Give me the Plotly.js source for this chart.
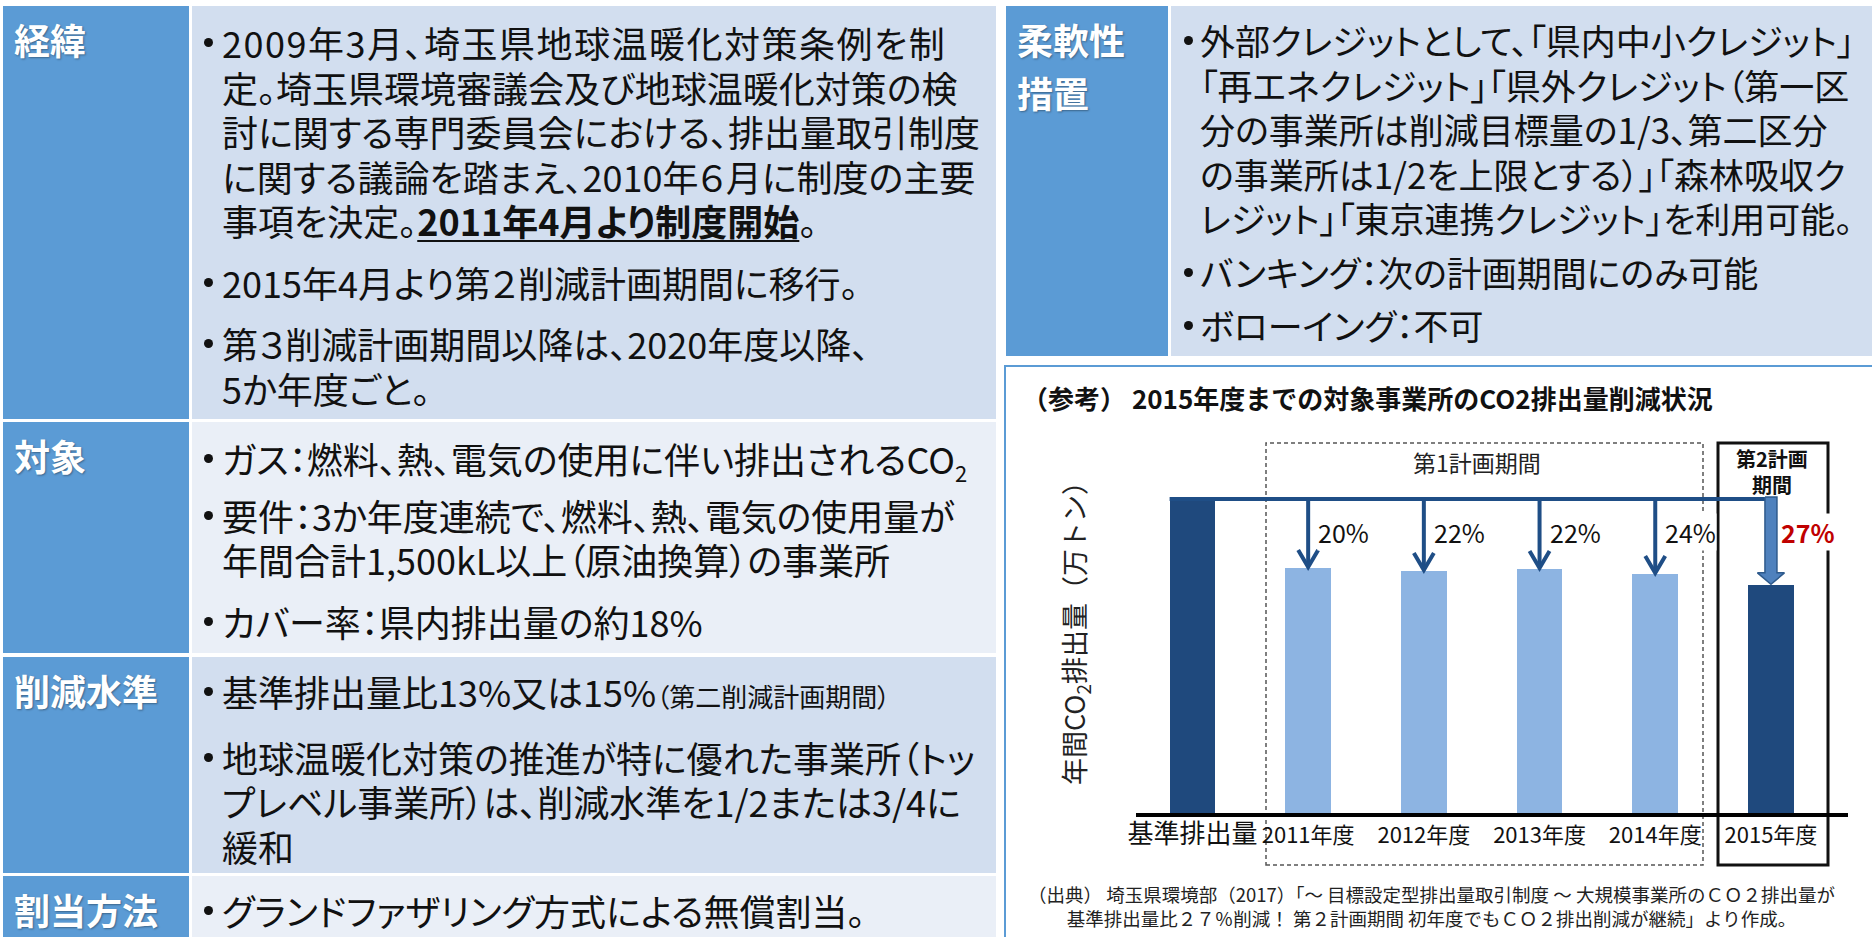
<!DOCTYPE html>
<html><head><meta charset="utf-8">
<script src="https://cdn.plot.ly/plotly-3.0.1.min.js"></script>
<style>
html,body{margin:0;padding:0;background:#fff;width:1872px;height:937px;overflow:hidden;}
body{position:relative;font-family:'Noto Sans CJK JP','Noto Sans',sans-serif;color:#111;}
.cell{position:absolute;box-sizing:border-box;overflow:hidden;}
.lab{background:#5b9bd5;color:#fff;font-weight:700;font-size:36px;line-height:44px;padding-left:11px;padding-top:11px;text-shadow:1px 1px 2px rgba(0,0,0,0.35);font-feature-settings:"palt";}
.dark{background:#d2deef;}
.light{background:#eaeff7;}
.txt{font-size:36px;line-height:44.5px;white-space:nowrap;font-feature-settings:"palt";}
.r.txt{font-size:35px;}
.p{position:relative;padding-left:30px;}
.p .dot{position:absolute;left:12px;top:18px;width:9px;height:9px;border-radius:50%;background:#111;}
.r .p{padding-left:29px;}
.r .p .dot{left:13px;}
.small{font-size:26px;}
.wide{letter-spacing:1.5px;}
u{text-decoration-thickness:2px;text-underline-offset:4px;}
#panel{position:absolute;left:1004px;top:365px;width:880px;height:600px;border:2px solid #5b9bd5;box-sizing:border-box;}
#chart{position:absolute;left:1006px;top:367px;width:866px;height:570px;}
</style>
</head><body>

<div class="cell lab" style="left:3px;top:6px;width:186px;height:413px;">経緯</div>
<div class="cell dark txt" style="left:192px;top:6px;width:804px;height:413px;padding-top:14px;">
  <div class="p"><span class="dot"></span><span class="wide">2009年3月、埼玉県地球温暖化対策条例を制</span><br>定。埼玉県環境審議会及び地球温暖化対策の検<br>討に関する専門委員会における、排出量取引制度<br>に関する議論を踏まえ、2010年６月に制度の主要<br>事項を決定。<b><u>2011年4月より制度開始</u></b>。</div>
  <div class="p" style="margin-top:17px;"><span class="dot"></span>2015年4月より第２削減計画期間に移行。</div>
  <div class="p" style="margin-top:17px;"><span class="dot"></span>第３削減計画期間以降は、2020年度以降、<br>5か年度ごと。</div>
</div>

<div class="cell lab" style="left:3px;top:422px;width:186px;height:231px;">対象</div>
<div class="cell light txt" style="left:192px;top:422px;width:804px;height:231px;padding-top:14px;">
  <div class="p"><span class="dot"></span>ガス：燃料、熱、電気の使用に伴い排出されるCO<sub style="font-size:22px;line-height:0;">2</sub></div>
  <div class="p" style="margin-top:12px;"><span class="dot"></span>要件：3か年度連続で、燃料、熱、電気の使用量が<br>年間合計1,500kL以上（原油換算）の事業所</div>
  <div class="p" style="margin-top:17px;"><span class="dot"></span>カバー率：県内排出量の約18%</div>
</div>

<div class="cell lab" style="left:3px;top:657px;width:186px;height:216px;">削減水準</div>
<div class="cell dark txt" style="left:192px;top:657px;width:804px;height:216px;padding-top:12px;">
  <div class="p"><span class="dot"></span>基準排出量比13%又は15%<span class="small">（第二削減計画期間）</span></div>
  <div class="p" style="margin-top:16px;"><span class="dot"></span>地球温暖化対策の推進が特に優れた事業所（トッ<br>プレベル事業所）は、削減水準を1/2または3/4に<br>緩和</div>
</div>

<div class="cell lab" style="left:3px;top:876px;width:186px;height:70px;">割当方法</div>
<div class="cell light txt" style="left:192px;top:876px;width:804px;height:70px;padding-top:12px;">
  <div class="p"><span class="dot"></span>グランドファザリング方式による無償割当。</div>
</div>

<div class="cell lab" style="left:1006px;top:6px;width:162px;height:350px;line-height:53px;padding-top:7px;">柔軟性<br>措置</div>
<div class="cell dark txt r" style="left:1171px;top:6px;width:701px;height:350px;padding-top:12px;">
  <div class="p"><span class="dot"></span>外部クレジットとして、「県内中小クレジット」<br>「再エネクレジット」「県外クレジット（第一区<br>分の事業所は削減目標量の1/3、第二区分<br>の事業所は1/2を上限とする）」「森林吸収ク<br>レジット」「東京連携クレジット」を利用可能。</div>
  <div class="p" style="margin-top:9px;"><span class="dot"></span>バンキング：次の計画期間にのみ可能</div>
  <div class="p" style="margin-top:9px;"><span class="dot"></span>ボローイング：不可</div>
</div>

<div id="panel"></div>
<div id="chart"></div>

<script>
// ---- data ----
const categories = ['基準排出量', '2011年度', '2012年度', '2013年度', '2014年度', '2015年度'];
const emissions = [100, 77.5, 76.6, 77.2, 75.6, 72.2];
const reductionLabels = ['', '20%', '22%', '22%', '24%', '27%'];
const firstPeriodLabel = '第1計画期間';
const secondPeriodLabel = '第2計画<br>期間';
const yTitle = '年間CO<sub>2</sub>排出量（万トン）';
const chartTitle = '（参考） 2015年度までの対象事業所のCO2排出量削減状況';
const sourceNote = '（出典） 埼玉県環境部（2017）「～ 目標設定型排出量取引制度 ～ 大規模事業所のＣＯ２排出量が<br>基準排出量比２７％削減！ 第２計画期間 初年度でもＣＯ２排出削減が継続」より作成。';

(function () {
  const FONT = "'Noto Sans CJK JP','Noto Sans',sans-serif";
  const X_RANGE = [-0.488, 5.666];
  const Y_RANGE = [0, 117.09];
  const PLOT_W = 712, PLOT_H = 370;
  const ux = (X_RANGE[1] - X_RANGE[0]) / PLOT_W;
  const uy = (Y_RANGE[1] - Y_RANGE[0]) / PLOT_H;
  const idx = categories.map((_, i) => i);
  const last = categories.length - 1;
  const base = emissions[0];
  const barW = 0.395;
  const DARK = '#1f497d', LIGHT = '#8db4e2', ARROW = '#1f4e86';

  const bars = {
    type: 'bar', x: idx, y: emissions, width: barW,
    marker: {color: idx.map(i => (i === 0 || i === last) ? DARK : LIGHT), line: {width: 0}},
    hoverinfo: 'skip', showlegend: false
  };

  const lineY = base - 2 * uy;
  const ax = [-barW / 2, last + 6 * ux, null];
  const ay = [lineY, lineY, null];
  for (let i = 1; i < last; i++) {
    const v = emissions[i];
    ax.push(i, i, null, i - 10 * ux, i, i + 10 * ux, null);
    ay.push(lineY, v + 2 * uy, null, v + 18 * uy, v + 1 * uy, v + 18 * uy, null);
  }
  const arrows = {
    type: 'scatter', mode: 'lines', x: ax, y: ay,
    line: {color: ARROW, width: 4}, hoverinfo: 'skip', showlegend: false, connectgaps: false
  };

  const v5 = emissions[last];
  const sw = 6 * ux, hw = 13.5 * ux, hh = 12 * uy, shaftTop = base;
  const bigArrow = {
    type: 'scatter', mode: 'lines', fill: 'toself', fillcolor: '#4f81bd',
    x: [last - sw, last + sw, last + sw, last + hw, last, last - hw, last - sw, last - sw],
    y: [shaftTop, shaftTop, v5 + hh, v5 + hh, v5 + 0.5 * uy, v5 + hh, v5 + hh, shaftTop],
    line: {color: '#2e5a8c', width: 1.5}, hoverinfo: 'skip', showlegend: false
  };

  const paperX = px => (px - 1136) / PLOT_W;
  const paperY = py => (813 - py) / PLOT_H;

  const annotations = [
    {text: '<b>' + chartTitle + '</b>', xref: 'paper', yref: 'paper', x: paperX(1020), y: paperY(398),
     xanchor: 'left', yanchor: 'middle', showarrow: false, font: {size: 26, color: '#111', family: FONT}},
    {text: yTitle, xref: 'paper', yref: 'paper', x: paperX(1075), y: paperY(627), textangle: -90,
     xanchor: 'center', yanchor: 'middle', showarrow: false, font: {size: 27, color: '#222', family: FONT}},
    {text: firstPeriodLabel, xref: 'paper', yref: 'paper', x: paperX(1477), y: paperY(462),
     xanchor: 'center', yanchor: 'middle', showarrow: false, font: {size: 23, color: '#222', family: FONT}},
    {text: '<b>' + secondPeriodLabel + '</b>', xref: 'paper', yref: 'paper', x: paperX(1772), y: paperY(471),
     xanchor: 'center', yanchor: 'middle', showarrow: false, font: {size: 20, color: '#111', family: FONT}},
    {text: sourceNote, xref: 'paper', yref: 'paper', x: paperX(1431), y: paperY(906),
     xanchor: 'center', yanchor: 'middle', showarrow: false, font: {size: 18.5, color: '#222', family: FONT}}
  ];
  for (let i = 1; i <= last; i++) {
    const isLast = i === last;
    annotations.push({
      text: isLast ? '<b>' + reductionLabels[i] + '</b>' : reductionLabels[i],
      xref: 'x', yref: 'y', x: i + 9 * ux, y: base - 11.1,
      xanchor: 'left', yanchor: 'middle', showarrow: false, bgcolor: '#fff', borderpad: 0,
      font: {size: 25, color: isLast ? '#c00000' : '#111', family: FONT}
    });
  }

  const shapes = [
    {type: 'rect', xref: 'paper', yref: 'paper', x0: paperX(1266), x1: paperX(1703), y0: paperY(865), y1: paperY(443),
     line: {color: '#555', width: 1.5, dash: '4px,3px'}, layer: 'below'},
    {type: 'rect', xref: 'paper', yref: 'paper', x0: paperX(1718), x1: paperX(1828), y0: paperY(865), y1: paperY(443),
     line: {color: '#111', width: 3}, layer: 'below'}
  ];

  const layout = {
    width: 866, height: 570,
    margin: {l: 130, r: 24, t: 76, b: 124},
    paper_bgcolor: 'rgba(0,0,0,0)', plot_bgcolor: 'rgba(0,0,0,0)',
    font: {family: FONT, color: '#111'},
    showlegend: false,
    xaxis: {
      range: X_RANGE, tickvals: idx, tickangle: 0,
      ticktext: categories.map((c, i) => i === 0 ? '<span style="font-size:26px">' + c + '</span>' : c),
      tickfont: {size: 22, color: '#111', family: FONT},
      showline: true, linecolor: '#000', linewidth: 4, showgrid: false, zeroline: false, ticks: '',
      fixedrange: true, automargin: false
    },
    yaxis: {range: Y_RANGE, showticklabels: false, showgrid: false, zeroline: false, showline: false, ticks: '', fixedrange: true},
    annotations: annotations,
    shapes: shapes,
    bargap: 0
  };

  Plotly.newPlot('chart', [bars, arrows, bigArrow], layout, {displayModeBar: false, staticPlot: true});
})();
</script>
</body></html>
